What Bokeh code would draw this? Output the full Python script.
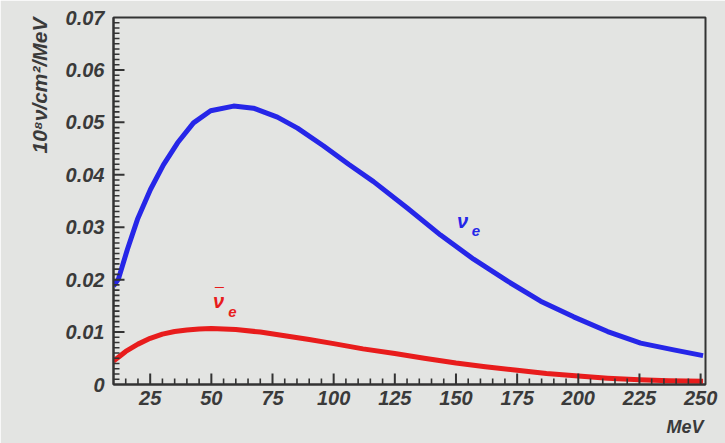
from bokeh.plotting import figure
from bokeh.models import FixedTicker, CustomJSTickFormatter, Label, Range1d, Title
from bokeh.embed import file_html
from bokeh.resources import INLINE

# Energy (MeV) and fluxes (10^8 nu/cm^2/MeV)
energy_nue = [10, 12, 15.7, 19.8, 25.1, 30.4, 36.2, 42.7, 49.7, 59.1, 67.2, 77.0,
              85.2, 95.9, 106.1, 116.3, 130.2, 143.7, 157.2, 171.1, 184.6,
              198.1, 212.0, 225.5, 239.0, 251]
flux_nue = [0.0188, 0.0201, 0.0258, 0.0315, 0.0372, 0.0419, 0.0461, 0.0499,
            0.0522, 0.0531, 0.0527, 0.0510, 0.0489, 0.0455, 0.0420, 0.0387,
            0.0336, 0.0285, 0.0239, 0.0197, 0.0159, 0.0129, 0.0101, 0.0079,
            0.0066, 0.0055]

energy_nuebar = [10, 12, 15, 20, 25, 30, 35, 40, 45, 50, 55, 60, 70, 80, 90, 100,
                 112, 125, 137, 150, 162, 175, 187, 200, 212, 225, 237, 251]
flux_nuebar = [0.0045, 0.0052, 0.0063, 0.0077, 0.0088, 0.0096, 0.0101, 0.0104,
               0.0106, 0.0107, 0.0106, 0.0105, 0.0100, 0.0093, 0.0086, 0.0078,
               0.0068, 0.0059, 0.0050, 0.0041, 0.0034, 0.0027, 0.0021, 0.0016,
               0.0012, 0.0009, 0.0007, 0.0006]

x_ticks = [25, 50, 75, 100, 125, 150, 175, 200, 225, 250]
x_minor = [v for v in range(15, 255, 5) if v not in x_ticks]
y_ticks = [0.01, 0.02, 0.03, 0.04, 0.05, 0.06]
y_minor = [i / 1000 for i in range(1, 70) if i % 10 != 0]
y_labels = [0, 0.01, 0.02, 0.03, 0.04, 0.05, 0.06, 0.07]

X0, X1, Y0, Y1 = 10, 252, 0, 0.07
W, H = 725, 443
LEFT, RIGHT, TOP, BOTTOM = 113, 20, 17, 57
px_x = (X1 - X0) / (W - LEFT - RIGHT)   # data units per pixel
px_y = (Y1 - Y0) / (H - TOP - BOTTOM)

BG = "#e3e4e2"
FONT = "Liberation Sans"
TXT = "#3a3a3a"
FRAME = "#333333"
BLUE = "#2626e8"
RED = "#e81c1c"

p = figure(width=W, height=H, output_backend="svg", toolbar_location=None,
           x_range=Range1d(X0, X1), y_range=Range1d(Y0, Y1),
           min_border_left=LEFT, min_border_right=RIGHT, min_border_top=TOP,
           min_border_bottom=BOTTOM)
p.background_fill_color = BG
p.border_fill_color = BG
p.outline_line_color = FRAME
p.outline_line_width = 2
p.grid.visible = False

p.line(energy_nue, flux_nue, line_color=BLUE, line_width=5, line_join="round")
p.line(energy_nuebar, flux_nuebar, line_color=RED, line_width=5, line_join="round")

# inward ticks as thin bars standing on the frame edges
MAJ, MIN = 11, 6
p.vbar(x=x_ticks, width=2 * px_x, bottom=Y0, top=Y0 + MAJ * px_y,
       fill_color=FRAME, line_color=None)
p.vbar(x=x_minor, width=1.6 * px_x, bottom=Y0, top=Y0 + MIN * px_y,
       fill_color=FRAME, line_color=None)
p.hbar(y=y_ticks, height=2 * px_y, left=X0, right=X0 + MAJ * px_x,
       fill_color=FRAME, line_color=None)
p.hbar(y=y_minor, height=1.6 * px_y, left=X0, right=X0 + MIN * px_x,
       fill_color=FRAME, line_color=None)

for ax in (p.xaxis[0], p.yaxis[0]):
    ax.axis_line_color = FRAME
    ax.axis_line_width = 2
    ax.major_tick_in = 0
    ax.major_tick_out = 0
    ax.minor_tick_in = 0
    ax.minor_tick_out = 0
    ax.major_label_text_font = FONT
    ax.major_label_text_font_style = "bold italic"
    ax.major_label_text_font_size = "20px"
    ax.major_label_text_color = TXT

p.xaxis.ticker = FixedTicker(ticks=x_ticks)
p.yaxis.ticker = FixedTicker(ticks=y_labels)
p.yaxis.formatter = CustomJSTickFormatter(
    code="return tick == 0 ? '0' : tick.toFixed(2);")
p.xaxis.major_label_standoff = 6
p.yaxis.major_label_standoff = 9

# axis titles as side titles (top-aligned on the left, right-aligned below)
p.add_layout(Title(text="10\u2078\u03bd/cm\u00b2/MeV", align="right",
                   text_font=FONT, text_font_style="bold italic",
                   text_font_size="21px", text_color=TXT,
                   standoff=24, offset=0), "left")
p.add_layout(Title(text="MeV", align="right", text_font=FONT,
                   text_font_style="bold italic", text_font_size="18px",
                   text_color=TXT, standoff=14, offset=2), "below")


def txt(x, y, s, size, color):
    p.add_layout(Label(x=x, y=y, text=s, text_font=FONT,
                       text_font_style="bold italic", text_font_size=size,
                       text_color=color, text_align="center",
                       text_baseline="middle"))


# curve labels
txt(152.7, 0.0311, "\u03bd", "20px", BLUE)
txt(158.2, 0.0292, "e", "15px", BLUE)
txt(52.9, 0.0160, "\u03bd", "20px", RED)
txt(53.3, 0.0172, "\u00af", "16px", RED)
txt(58.6, 0.0138, "e", "15px", RED)

open("out.html", "w").write(file_html(p, INLINE))
